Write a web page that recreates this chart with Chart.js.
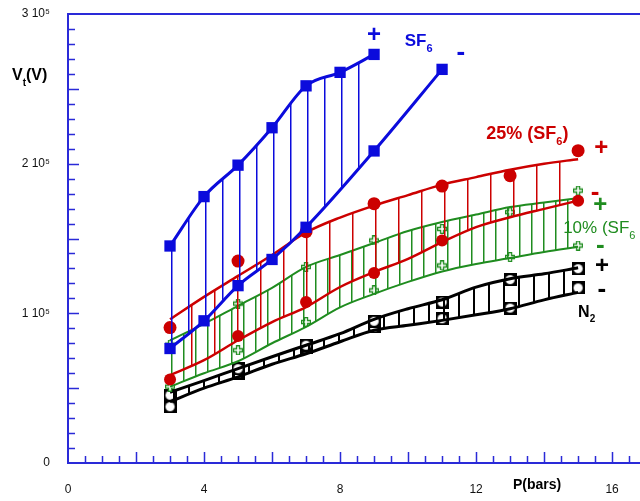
<!DOCTYPE html>
<html>
<head>
<meta charset="utf-8">
<script src="https://cdn.jsdelivr.net/npm/chart.js@4.4.1/dist/chart.umd.min.js"></script>
<style>
  html, body { margin: 0; padding: 0; background: #fff; }
</style>
</head>
<body>
<canvas id="breakdownChart" width="640" height="501"></canvas>
<script>
// Breakdown voltage V_t vs pressure P (bars), + and - polarity

// SF6 (blue)
const pSF6Plus = [3, 4, 5, 6, 7, 8, 9];
const vSF6Plus = [145000, 178000, 199000, 224000, 252000, 261000, 273000];
const pSF6Minus = [3, 4, 5, 6, 7, 9, 11];
const vSF6Minus = [76500, 95000, 118500, 136000, 157500, 208500, 263000];

// pressures where the fitted curves were read
const pFit = [3, 4, 5, 6, 7, 8, 9, 10, 11, 12, 13, 14, 15];

// 25% SF6 (red)
const v25PlusFit = [96000, 111000, 125000, 139000, 154000, 164000, 172000, 179000, 186000, 191000, 196000, 200000, 203000];
const v25MinusFit = [58700, 68700, 82000, 94200, 104200, 117600, 127600, 136400, 147600, 157600, 164200, 169800, 175300];
const p25PlusMarks = [3, 5, 7, 9, 11, 13, 15];
const v25PlusMarks = [90500, 134900, 154500, 173300, 185000, 192000, 208700];
const p25MinusMarks = [3, 5, 7, 9, 11, 15];
const v25MinusMarks = [55800, 84900, 107500, 126900, 148700, 175300];

// 10% SF6 (green)
const v10PlusFit = [82000, 93000, 105000, 117000, 131000, 139000, 147000, 155000, 161000, 166000, 171000, 174000, 177000];
const v10MinusFit = [51000, 60000, 68000, 80000, 91000, 104000, 113000, 121000, 128000, 133000, 137000, 141000, 144500];
const p10Marks = [3, 5, 7, 9, 11, 13, 15];
const v10PlusMarks = [79000, 106500, 131000, 148700, 156400, 167600, 182000];
const v10MinusMarks = [51000, 75300, 94200, 115300, 132000, 137600, 145300];

// N2 (black)
const vN2PlusFit = [47300, 55000, 63100, 71000, 78700, 86400, 96000, 103100, 109100, 117500, 123100, 126400, 130400];
const vN2MinusFit = [41000, 50000, 57500, 66000, 73000, 81000, 88700, 92000, 95300, 99000, 103100, 109000, 114000];
const pN2Marks = [3, 5, 7, 9, 11, 13, 15];
const vN2PlusMarks = [45300, 63000, 78700, 94700, 107500, 122500, 129800];
const vN2MinusMarks = [37600, 60000, 77000, 90900, 96400, 103500, 117000];

// axis ticks
const xTickLabels = [0, 4, 8, 12, 16];
const yTickLabels = [0, 100000, 200000, 300000];

const axisBlue = '#2a2ad8';
const blue = '#0b0bdc';
const red = '#cc0000';
const green = '#1f8c1f';
const black = '#000000';
const fontFamily = '"Liberation Sans", Arial, sans-serif';

const toXY = (ps, vs) => ps.map((p, i) => ({ x: p, y: vs[i] }));

// vertical hatching for the band between + and - curves
function hatch(color, step, offset, width) {
  const c = document.createElement('canvas');
  c.width = step; c.height = 4;
  const g = c.getContext('2d');
  g.fillStyle = color;
  g.fillRect(offset, 0, width, 4);
  return g.createPattern(c, 'repeat');
}

function openPlus(color) {
  const c = document.createElement('canvas');
  c.width = 10; c.height = 10;
  const g = c.getContext('2d');
  g.beginPath();
  const pts = [[3.5,0.5],[6.5,0.5],[6.5,3.5],[9.5,3.5],[9.5,6.5],[6.5,6.5],[6.5,9.5],[3.5,9.5],[3.5,6.5],[0.5,6.5],[0.5,3.5],[3.5,3.5]];
  pts.forEach((q, i) => i ? g.lineTo(q[0], q[1]) : g.moveTo(q[0], q[1]));
  g.closePath();
  g.fillStyle = '#fff'; g.fill();
  g.strokeStyle = color; g.lineWidth = 1.3; g.stroke();
  return c;
}

function squareCircle() {
  const c = document.createElement('canvas');
  c.width = 13; c.height = 13;
  const g = c.getContext('2d');
  g.fillStyle = '#000'; g.fillRect(0, 0, 13, 13);
  g.fillStyle = '#fff';
  g.beginPath(); g.arc(6.5, 6.5, 4.6, 0, Math.PI * 2); g.fill();
  return c;
}

const greenPlus = openPlus(green);
const n2Mark = squareCircle();

function curve(data, color, width, extra) {
  return Object.assign({
    data: data, showLine: true, borderColor: color, borderWidth: width,
    pointRadius: 0, fill: false, cubicInterpolationMode: 'monotone'
  }, extra || {});
}

function marks(data, style, color, radius) {
  return {
    data: data, showLine: false, pointStyle: style, pointRadius: radius,
    backgroundColor: color, borderColor: color, borderWidth: 0
  };
}

// text placed in data coordinates
const notes = [
  { p: 9.0, v: 286000, parts: [['+']], font: 'bold 24px', color: blue, align: 'center' },
  { p: 9.9, v: 282000, parts: [['SF'], ['6', 1]], font: 'bold 17px', color: blue },
  { p: 11.55, v: 274000, parts: [['-']], font: 'bold 26px', color: blue, align: 'center' },
  { p: 12.3, v: 220000, parts: [['25% (SF'], ['6', 1], [')']], font: 'bold 18px', color: red },
  { p: 15.68, v: 210000, parts: [['+']], font: 'bold 24px', color: red, align: 'center' },
  { p: 15.5, v: 180500, parts: [['-']], font: 'bold 26px', color: red, align: 'center' },
  { p: 15.65, v: 172000, parts: [['+']], font: 'bold 24px', color: green, align: 'center' },
  { p: 14.56, v: 156700, parts: [['10% (SF'], ['6', 1]], font: '17px', color: green },
  { p: 15.65, v: 145000, parts: [['-']], font: 'bold 26px', color: green, align: 'center' },
  { p: 15.7, v: 131300, parts: [['+']], font: 'bold 24px', color: black, align: 'center' },
  { p: 15.7, v: 115500, parts: [['-']], font: 'bold 26px', color: black, align: 'center' },
  { p: 15.0, v: 100700, parts: [['N'], ['2', 1]], font: 'bold 16px', color: black }
];

const frame = {
  id: 'frame',
  beforeDatasetsDraw(chart) {
    const { ctx, chartArea: a, scales: { x, y } } = chart;
    ctx.save();
    ctx.strokeStyle = axisBlue;
    ctx.lineWidth = 2;
    ctx.beginPath();
    ctx.moveTo(chart.width, a.top); ctx.lineTo(a.left, a.top);
    ctx.lineTo(a.left, a.bottom); ctx.lineTo(chart.width, a.bottom);
    ctx.stroke();
    ctx.lineWidth = 1.5;
    ctx.beginPath();
    for (let p = 0.5; x.getPixelForValue(p) < chart.width; p += 0.5) {
      const px = Math.round(x.getPixelForValue(p)) + 0.5;
      const len = p % 2 === 0 ? 11 : 7;
      ctx.moveTo(px, a.bottom); ctx.lineTo(px, a.bottom - len);
    }
    for (let v = 10000; v < y.max; v += 10000) {
      const py = Math.round(y.getPixelForValue(v)) + 0.5;
      const len = v % 50000 === 0 ? 11 : 7;
      ctx.moveTo(a.left, py); ctx.lineTo(a.left + len, py);
    }
    ctx.stroke();
    ctx.restore();
  },
  afterDraw(chart) {
    const { ctx, scales: { x, y } } = chart;
    ctx.save();
    ctx.textBaseline = 'middle';
    const put = (px, py, parts, font, color, align) => {
      ctx.fillStyle = color;
      const size = parseFloat(font.match(/(\d+)px/)[1]);
      const weight = font.indexOf('bold') >= 0 ? 'bold ' : '';
      const mainFont = weight + size + 'px ' + fontFamily;
      const subFont = weight + Math.round(size * 0.62) + 'px ' + fontFamily;
      let total = 0;
      parts.forEach(pt => { ctx.font = pt[1] ? subFont : mainFont; total += ctx.measureText(pt[0]).width; });
      let cx = align === 'center' ? px - total / 2 : px;
      ctx.textAlign = 'left';
      parts.forEach(pt => {
        ctx.font = pt[1] ? subFont : mainFont;
        ctx.fillText(pt[0], cx, pt[1] ? py + size * 0.45 : py);
        cx += ctx.measureText(pt[0]).width;
      });
    };
    notes.forEach(n => put(x.getPixelForValue(n.p), y.getPixelForValue(n.v), n.parts, n.font, n.color, n.align));
    // axis titles
    put(12, 76, [['V'], ['t', 1], ['(V)']], 'bold 16px', black);
    put(513, 485, [['P(bars)']], 'bold 14px', black);
    ctx.restore();
  }
};

const ctx = document.getElementById('breakdownChart').getContext('2d');
const breakdownChart = new Chart(ctx, {
  type: 'scatter',
  data: {
    datasets: [
      // SF6
      curve(toXY(pSF6Plus, vSF6Plus), blue, 3, {
        fill: { target: '+1' }, backgroundColor: hatch(blue, 17, 1, 1.5),
        pointRadius: 8, pointStyle: 'rect', pointBackgroundColor: blue, pointBorderWidth: 0
      }),
      curve(toXY(pSF6Minus, vSF6Minus), blue, 3, {
        pointRadius: 8, pointStyle: 'rect', pointBackgroundColor: blue, pointBorderWidth: 0
      }),
      // 25% SF6
      curve(toXY(pFit, v25PlusFit), red, 2.5, { fill: { target: '+1' }, backgroundColor: hatch(red, 23, 7, 1.5) }),
      curve(toXY(pFit, v25MinusFit), red, 2.5),
      marks(toXY(p25PlusMarks, v25PlusMarks), 'circle', red, 6.5),
      marks(toXY(p25MinusMarks, v25MinusMarks), 'circle', red, 6),
      // 10% SF6
      curve(toXY(pFit, v10PlusFit), green, 2, { fill: { target: '+1' }, backgroundColor: hatch(green, 12, 3, 1.5) }),
      curve(toXY(pFit, v10MinusFit), green, 2),
      marks(toXY(p10Marks, v10PlusMarks), greenPlus, green, 5),
      marks(toXY(p10Marks, v10MinusMarks), greenPlus, green, 5),
      // N2
      curve(toXY(pFit, vN2PlusFit), black, 3, { fill: { target: '+1' }, backgroundColor: hatch(black, 15, 8, 2) }),
      curve(toXY(pFit, vN2MinusFit), black, 3),
      marks(toXY(pN2Marks, vN2PlusMarks), n2Mark, black, 6),
      marks(toXY(pN2Marks, vN2MinusMarks), n2Mark, black, 6)
    ]
  },
  options: {
    responsive: false,
    animation: false,
    events: [],
    layout: { autoPadding: false, padding: { top: 14, left: 0, right: 0, bottom: 0 } },
    plugins: {
      legend: { display: false },
      tooltip: { enabled: false }
    },
    scales: {
      x: {
        type: 'linear', min: 0, max: 16.82,
        grid: { display: false, drawTicks: true, tickLength: 19 },
        border: { display: false },
        afterBuildTicks: s => { s.ticks = xTickLabels.map(v => ({ value: v })); },
        afterFit: s => { s.height = 38; s.paddingLeft = 0; s.paddingRight = 0; },
        ticks: {
          padding: 0, autoSkip: false, maxRotation: 0,
          color: '#111', font: { family: fontFamily, size: 12 }
        }
      },
      y: {
        type: 'linear', min: 0, max: 300000,
        grid: { display: false, drawTicks: true, tickLength: 18 },
        border: { display: false },
        afterBuildTicks: s => { s.ticks = yTickLabels.map(v => ({ value: v })); },
        afterFit: s => { s.width = 68; },
        ticks: {
          padding: 0, color: '#111', font: { family: fontFamily, size: 12 },
          callback: v => v === 0 ? '0' : (v / 100000) + ' 10\u2075'
        }
      }
    }
  },
  plugins: [frame]
});
</script>
</body>
</html>
